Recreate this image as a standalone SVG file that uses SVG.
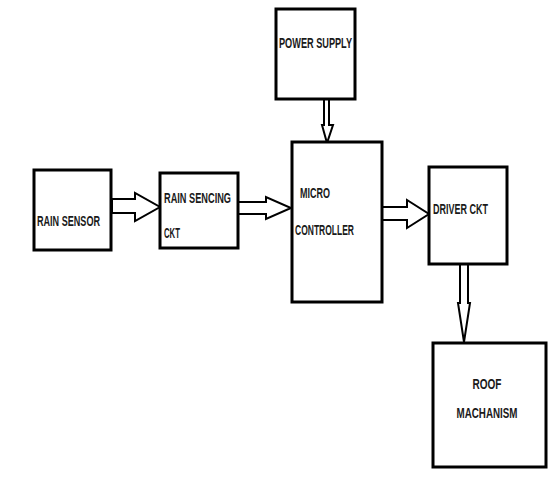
<svg xmlns="http://www.w3.org/2000/svg" width="550" height="496" viewBox="0 0 550 496">
<style>
.box{fill:#fff;stroke:#000;stroke-width:3}
.arr{fill:#fff;stroke:#000;stroke-width:2;stroke-linejoin:miter}
text{font-family:"Liberation Sans Narrow","Liberation Sans",Arial,sans-serif;font-size:15px;font-weight:bold;fill:#1a1a1a}
</style>
<rect width="550" height="496" fill="#fff"/>
<g id="connectors">
<polygon class="arr" points="112,199 135,199 135,193 160,207 135,221 135,213 112,213"/>
<polygon class="arr" points="238,202 266,202 266,197 291,208 266,219 266,214 238,214"/>
<polygon class="arr" points="324,99 324,125 322,125 327,143 333,125 329,125 329,99"/>
<polygon class="arr" points="382,207 407,207 407,200 429,214 407,228 407,220 382,220"/>
<polygon class="arr" points="460,264 460,303 458,303 464,342 470,303 468,303 468,264"/>
</g>
<g id="rain-sensor">
<rect class="box" x="34" y="170" width="77" height="80"/>
<text x="37" y="226" textLength="63" lengthAdjust="spacingAndGlyphs">RAIN SENSOR</text>
</g>
<g id="rain-sencing-ckt">
<rect class="box" x="160" y="173" width="78" height="75"/>
<text x="164" y="203" textLength="67" lengthAdjust="spacingAndGlyphs">RAIN SENCING</text>
<text x="164" y="238" textLength="16" lengthAdjust="spacingAndGlyphs">CKT</text>
</g>
<g id="power-supply">
<rect class="box" x="276" y="9" width="79" height="90"/>
<text x="279" y="48" textLength="73" lengthAdjust="spacingAndGlyphs">POWER SUPPLY</text>
</g>
<g id="micro-controller">
<rect class="box" x="292" y="142" width="90" height="160"/>
<text x="300" y="198" textLength="30" lengthAdjust="spacingAndGlyphs">MICRO</text>
<text x="295" y="235" textLength="59" lengthAdjust="spacingAndGlyphs">CONTROLLER</text>
</g>
<g id="driver-ckt">
<rect class="box" x="429" y="167" width="78" height="97"/>
<text x="433" y="214" textLength="55" lengthAdjust="spacingAndGlyphs">DRIVER CKT</text>
</g>
<g id="roof-machanism">
<rect class="box" x="433" y="343" width="113" height="124"/>
<text x="487" y="389" text-anchor="middle" textLength="29" lengthAdjust="spacingAndGlyphs">ROOF</text>
<text x="487" y="418" text-anchor="middle" textLength="61" lengthAdjust="spacingAndGlyphs">MACHANISM</text>
</g>
</svg>
